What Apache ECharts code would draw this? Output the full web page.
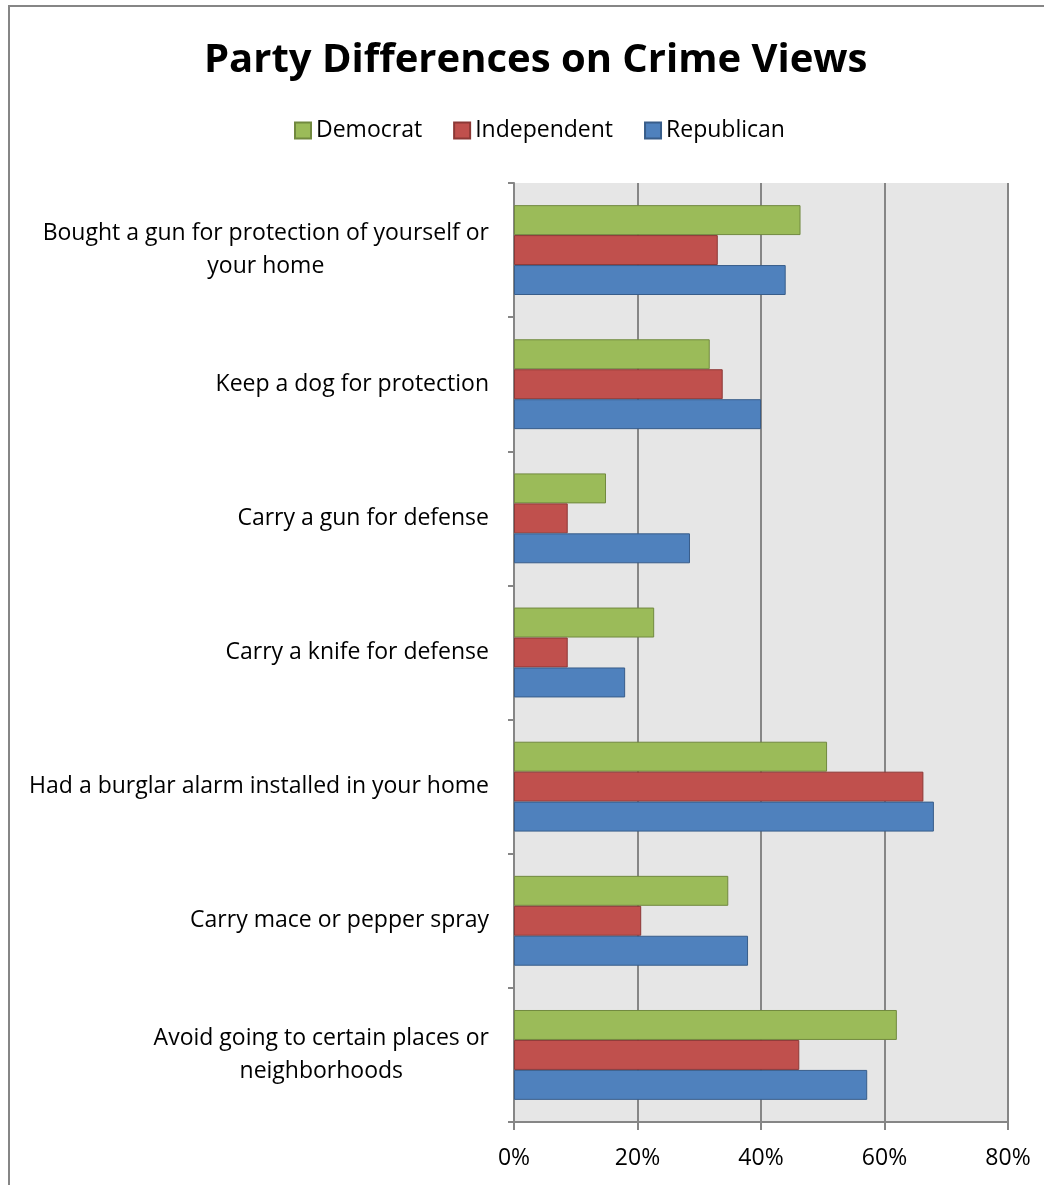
<!DOCTYPE html>
<html>
<head>
<meta charset="utf-8">
<script src="https://cdn.jsdelivr.net/npm/echarts@6/dist/echarts.min.js"></script>
<style>
html,body{margin:0;padding:0;background:#fff;}
#c{width:1044px;height:1185px;}
</style>
</head>
<body>
<div id="c"></div>
<script>
const categories = [
  "Bought a gun for protection of yourself or\nyour home",
  "Keep a dog for protection",
  "Carry a gun for defense",
  "Carry a knife for defense",
  "Had a burglar alarm installed in your home",
  "Carry mace or pepper spray",
  "Avoid going to certain places or\nneighborhoods"
];
const democrat    = [46.4, 31.7, 14.9, 22.7, 50.7, 34.7, 62.0];
const independent = [33.0, 33.8, 8.7, 8.7, 66.3, 20.6, 46.2];
const republican  = [44.0, 40.0, 28.5, 18.0, 68.0, 37.9, 57.2];
const seriesNames = ["Democrat", "Independent", "Republican"];
const xTicks = [0, 20, 40, 60, 80];

const FONT = "'Open Sans', sans-serif";
const chart = echarts.init(document.getElementById('c'), null, {renderer: 'canvas'});

const colors = ['#9BBB59', '#C0504D', '#4F81BD'];
const borders = ['#71893F', '#8C3836', '#385D8A'];
const dataSets = [democrat, independent, republican];

chart.setOption({
  animation: false,
  backgroundColor: '#ffffff',
  graphic: [{
    type: 'rect',
    shape: {x: 9, y: 6, width: 1200, height: 1400},
    style: {fill: 'none', stroke: '#868686', lineWidth: 2},
    z: 100
  }],
  title: {
    text: 'Party Differences on Crime Views',
    left: 199,
    top: 36,
    textStyle: {fontFamily: FONT, fontWeight: 'bold', fontSize: 40, color: '#000'}
  },
  legend: {
    data: seriesNames,
    top: 114,
    left: 289,
    itemWidth: 16,
    itemHeight: 16,
    itemGap: 31,
    icon: 'rect',
    textStyle: {fontFamily: FONT, fontSize: 23, color: '#000'}
  },
  grid: {
    left: 514, right: 36, top: 183, bottom: 63,
    show: true, backgroundColor: '#e6e6e6', borderWidth: 0
  },
  xAxis: {
    type: 'value',
    min: 0, max: 80, interval: 20,
    axisLine: {show: true, lineStyle: {color: '#868686', width: 2}},
    axisTick: {show: true, length: 8, lineStyle: {color: '#868686', width: 2}},
    splitLine: {show: true, lineStyle: {color: '#868686', width: 2}},
    axisLabel: {
      formatter: '{value}%', margin: 25,
      fontFamily: FONT, fontSize: 23, color: '#000'
    }
  },
  yAxis: {
    type: 'category',
    inverse: true,
    data: categories,
    axisLine: {show: true, lineStyle: {color: '#868686', width: 2}},
    axisTick: {show: true, length: 6, lineStyle: {color: '#868686', width: 2}},
    splitLine: {show: false},
    axisLabel: {
      margin: 25,
      align: 'right',
      formatter: function (v) {
        return v.split('\n').map(function (s) { return '{c|' + s + '}'; }).join('\n');
      },
      rich: {
        c: {align: 'center', fontFamily: FONT, fontSize: 23, color: '#000', lineHeight: 33}
      }
    }
  },
  series: seriesNames.map(function (name, i) {
    return {
      name: name,
      type: 'bar',
      data: dataSets[i],
      barGap: '0%',
      barCategoryGap: '33%',
      itemStyle: {color: colors[i], borderColor: borders[i], borderWidth: 1}
    };
  })
});
</script>
</body>
</html>
